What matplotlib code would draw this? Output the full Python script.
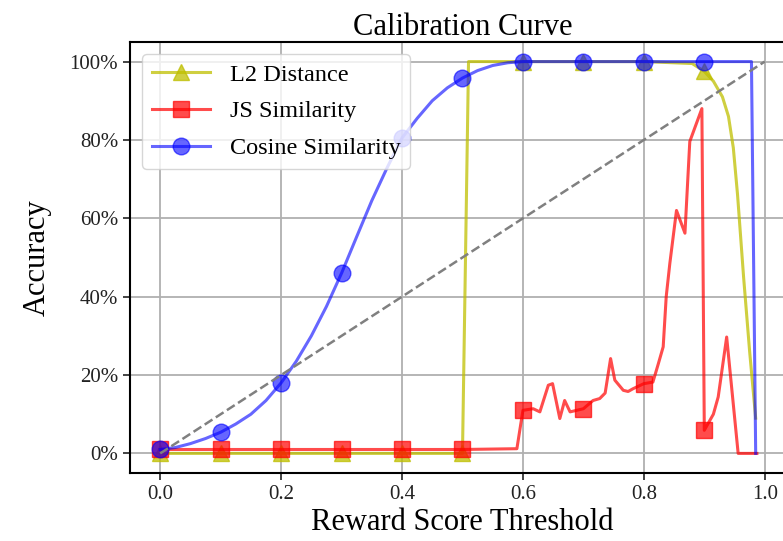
import numpy as np
import matplotlib
matplotlib.use('Agg')
import matplotlib.pyplot as plt
from matplotlib.ticker import PercentFormatter

plt.rcParams['font.family'] = ['Liberation Serif', 'DejaVu Serif']

# marker positions (every 0.1 threshold)
marker_x = [0.0, 0.1, 0.2, 0.3, 0.4, 0.5, 0.6, 0.7, 0.8, 0.9]

# L2 distance
l2_x = [0.0, 0.1, 0.2, 0.3, 0.4, 0.5, 0.51, 0.6, 0.7, 0.8, 0.88, 0.9,
        0.915, 0.93, 0.94, 0.948, 0.955, 0.965, 0.975, 0.985]
l2_y = [0.0, 0.0, 0.0, 0.0, 0.0, 0.0, 1.0, 1.0, 1.0, 1.0, 0.995, 0.975,
        0.95, 0.91, 0.86, 0.78, 0.66, 0.45, 0.26, 0.09]

# JS similarity
js_x = [0.0, 0.1, 0.2, 0.3, 0.4, 0.5, 0.59, 0.6, 0.617, 0.628, 0.642, 0.649,
        0.661, 0.669, 0.678, 0.7, 0.716, 0.727, 0.736, 0.745, 0.752, 0.766,
        0.774, 0.782, 0.8, 0.815, 0.824, 0.832, 0.837, 0.843, 0.854, 0.868,
        0.876, 0.896, 0.9, 0.915, 0.923, 0.937, 0.956, 0.987]
js_y = [0.01, 0.01, 0.01, 0.01, 0.01, 0.01, 0.012, 0.11, 0.114, 0.106, 0.174, 0.178,
        0.089, 0.135, 0.106, 0.114, 0.135, 0.14, 0.154, 0.242, 0.187, 0.161,
        0.158, 0.165, 0.178, 0.182, 0.229, 0.272, 0.40, 0.485, 0.62, 0.562,
        0.796, 0.88, 0.059, 0.10, 0.144, 0.297, 0.0, 0.0]

# Cosine similarity
cos_x = [0.0, 0.025, 0.05, 0.075, 0.1, 0.125, 0.15, 0.175, 0.2, 0.225, 0.25,
         0.275, 0.3, 0.325, 0.35, 0.375, 0.4, 0.425, 0.45, 0.475, 0.5, 0.525,
         0.55, 0.575, 0.6, 0.7, 0.8, 0.9, 0.978, 0.985]
cos_y = [0.01, 0.015, 0.025, 0.038, 0.054, 0.075, 0.10, 0.135, 0.18, 0.235, 0.30,
         0.375, 0.46, 0.553, 0.645, 0.728, 0.805, 0.855, 0.90, 0.933, 0.958, 0.977,
         0.99, 0.997, 1.0, 1.0, 1.0, 1.0, 1.0, 0.0]


def marks(xs):
    return [i for i, x in enumerate(xs) if np.any(np.isclose(x, marker_x))]


fig = plt.figure(figsize=(7.83, 5.41), dpi=100)
ax = fig.add_axes([0.166, 0.1257, 0.8493, 0.7967])

ax.plot(l2_x, l2_y, color='y', alpha=0.75, lw=2.2, marker='^', ms=12,
        markevery=marks(l2_x), label='L2 Distance')
ax.plot(js_x, js_y, color='r', alpha=0.7, lw=2.2, marker='s', ms=12,
        markevery=marks(js_x), label='JS Similarity')
ax.plot(cos_x, cos_y, color='b', alpha=0.6, lw=2.2, marker='o', ms=12,
        markevery=marks(cos_x), label='Cosine Similarity')
ax.plot([0, 1], [0, 1], '--', color='gray', lw=1.8)

ax.set_xlim(-0.05, 1.05)
ax.set_ylim(-0.05, 1.05)
ax.set_xticks([0.0, 0.2, 0.4, 0.6, 0.8, 1.0])
ax.set_yticks([0.0, 0.2, 0.4, 0.6, 0.8, 1.0])
ax.yaxis.set_major_formatter(PercentFormatter(1.0, decimals=0))
ax.tick_params(labelsize=15, length=5, width=1.2, colors='#222222')
ax.grid(True, color='#b0b0b0', lw=1.3)
for s in ax.spines.values():
    s.set_linewidth(1.5)

ax.set_title('Calibration Curve', fontsize=22, pad=4)
ax.set_xlabel('Reward Score Threshold', fontsize=22, labelpad=3)
ax.set_ylabel('Accuracy', fontsize=22, labelpad=13)
ax.legend(loc='upper left', fontsize=17.5, handlelength=2.4, labelspacing=0.6)

fig.savefig('out.png', dpi=100)
